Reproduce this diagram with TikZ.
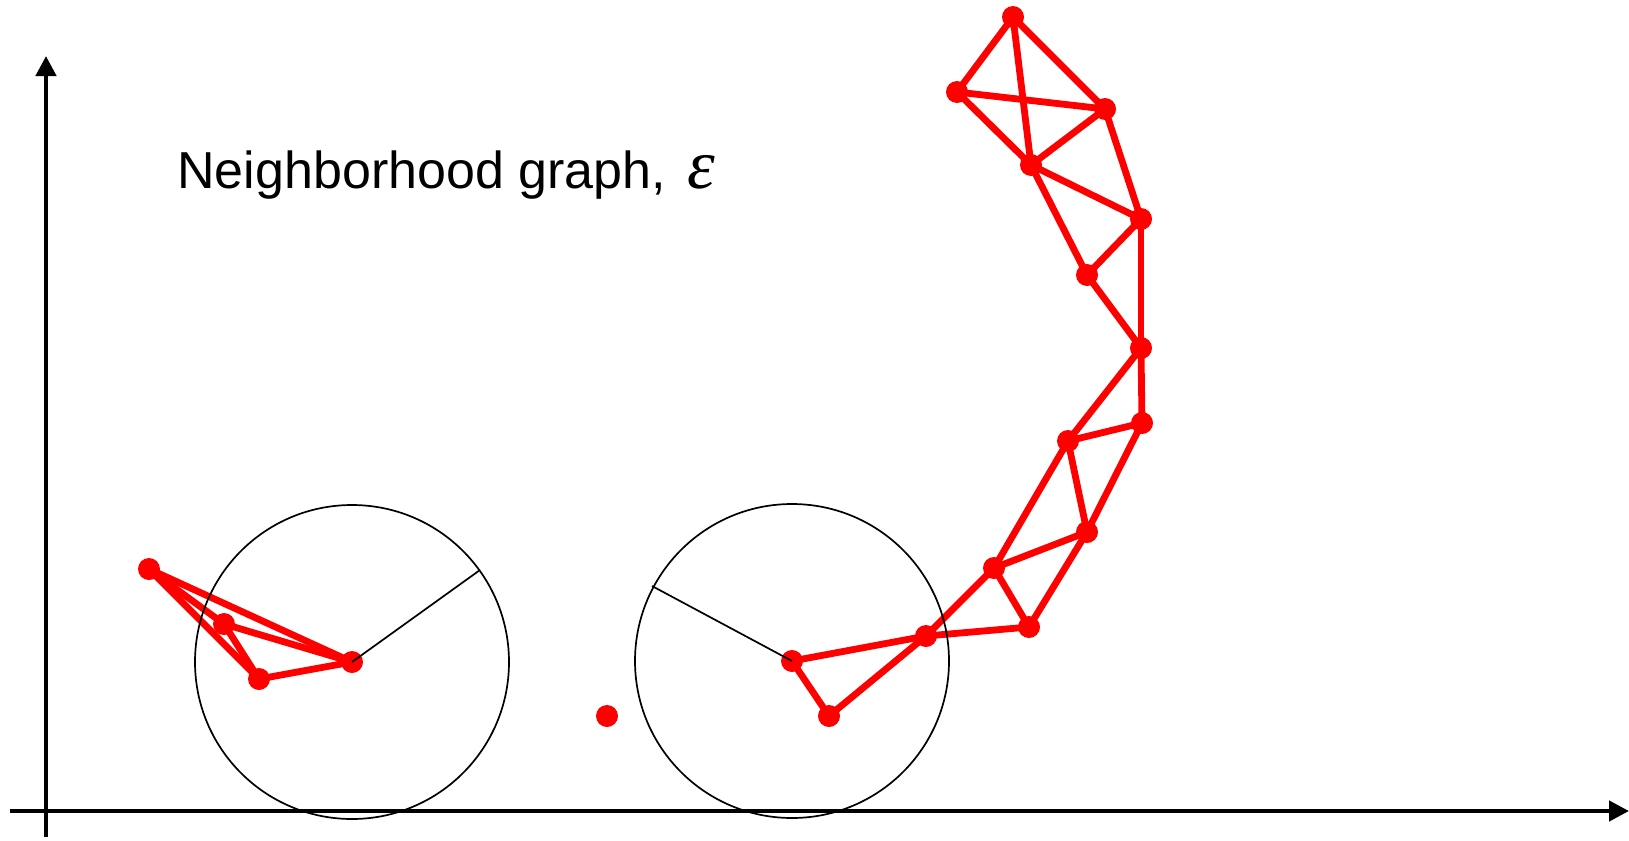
\documentclass[tikz,border=0pt]{standalone}
\usepackage{fontspec}
\setmainfont{Liberation Sans}
\newfontfamily\epsfont{Liberation Serif}
\usetikzlibrary{arrows.meta}
\begin{document}
\begin{tikzpicture}[x=0.5pt,y=-0.5pt,
  pt/.style={circle,fill=red,inner sep=0pt,minimum size=11pt},
  edge/.style={red,line width=3.4pt},
  thin/.style={black,line width=0.85pt},
  axis/.style={black,line width=2.2pt,-{Triangle[width=10pt,length=10pt]}}]
\useasboundingbox (0,0) rectangle (1629,841);
% axes
\coordinate (xs) at (10,811);
\coordinate (xe) at (1629,811);
\coordinate (ys) at (46,837);
\coordinate (ye) at (46,56);
\draw[axis] (xs) -- (xe);
\draw[axis] (ys) -- (ye);
% title
\node[anchor=base west,font=\fontsize{26pt}{30pt}\selectfont,inner sep=0pt] (title) at (177,188) {Neighborhood graph,\hspace{0.42em}{\epsfont\itshape\scalebox{1.35}{ε}}};
% points
\node[pt] (A) at (1013,17) {};
\node[pt] (B) at (957,92) {};
\node[pt] (C) at (1105,109) {};
\node[pt] (D) at (1031,165) {};
\node[pt] (E) at (1141,219) {};
\node[pt] (F) at (1087,275) {};
\node[pt] (G) at (1141,348) {};
\node[pt] (H) at (1142,423) {};
\node[pt] (I) at (1068,441) {};
\node[pt] (J) at (1087,532) {};
\node[pt] (K) at (994,568) {};
\node[pt] (L) at (1029,627) {};
\node[pt] (M) at (926,636) {};
\node[pt] (Q1) at (792,661) {};
\node[pt] (Q2) at (829,716) {};
\node[pt] (iso) at (607,716) {};
\node[pt] (P1) at (149,569) {};
\node[pt] (P2) at (224,624) {};
\node[pt] (P3) at (259,679) {};
\node[pt] (P4) at (352,662) {};
% edges
\foreach \a/\b in {A/B,A/D,A/C,B/C,B/D,C/D,C/E,D/E,D/F,E/F,E/G,F/G,G/H,G/I,H/I,I/J,H/J,I/K,J/K,K/L,J/L,K/M,L/M,M/Q1,M/Q2,Q1/Q2,P1/P2,P1/P3,P1/P4,P2/P3,P2/P4,P3/P4}
  \draw[edge] (\a.center) -- (\b.center);
% epsilon balls
\coordinate (r1) at (480,570);
\coordinate (r2) at (652,586);
\draw[thin] (P4.center) circle[radius=78.5pt];
\draw[thin] (Q1.center) circle[radius=78.5pt];
\draw[thin] (P4.center) -- (r1);
\draw[thin] (Q1.center) -- (r2);
\end{tikzpicture}
\end{document}
